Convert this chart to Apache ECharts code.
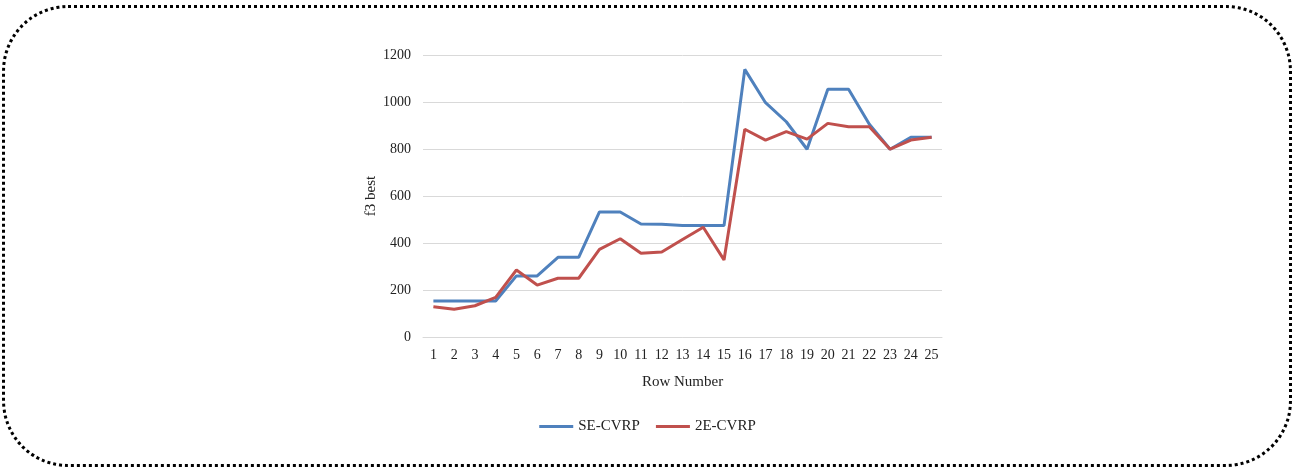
<!DOCTYPE html>
<html>
<head>
<meta charset="utf-8">
<script src="https://cdn.jsdelivr.net/npm/echarts@6/dist/echarts.min.js"></script>
<style>
  html, body { margin: 0; padding: 0; background: #fff; }
  #frame {
    position: absolute; left: 2px; top: 5px; width: 1284px; height: 456px;
    border: 3px dotted #000; border-radius: 66px;
  }
  #echart { position: absolute; left: 0; top: 0; width: 1295px; height: 470px; }
</style>
</head>
<body>
<div id="frame"></div>
<div id="echart"></div>
<script>
  var rowNumbers = ['1','2','3','4','5','6','7','8','9','10','11','12','13','14','15','16','17','18','19','20','21','22','23','24','25'];
  var seCvrp = [153, 153, 153, 153, 260, 260, 339, 339, 532, 532, 481, 480, 474, 474, 474, 1139, 997, 916, 799, 1054, 1054, 905, 799, 850, 850];
  var twoECvrp = [129, 118, 133, 169, 285, 221, 250, 250, 373, 418, 356, 362, 415, 467, 328, 884, 838, 874, 842, 909, 895, 895, 799, 838, 850];
  var yTicks = [0, 1200, 200];   // min, max, step

  var font = '"Liberation Serif", "Times New Roman", serif';
  var myChart = echarts.init(document.getElementById('echart'));

  var option = {
    animation: false,
    grid: { left: 423, right: 353, top: 55, bottom: 133 },
    legend: {
      bottom: 31,
      left: 'center',
      icon: 'rect',
      itemWidth: 34,
      itemHeight: 3,
      itemGap: 16,
      textStyle: { fontFamily: font, fontSize: 15, color: '#222' },
      data: ['SE-CVRP', '2E-CVRP']
    },
    xAxis: {
      type: 'category',
      data: rowNumbers,
      boundaryGap: true,
      name: 'Row Number',
      nameLocation: 'middle',
      nameGap: 38,
      nameTextStyle: { fontFamily: font, fontSize: 15, color: '#222' },
      axisLine: { show: true, lineStyle: { color: '#d9d9d9' } },
      axisTick: { show: false },
      axisLabel: { fontFamily: font, fontSize: 14, color: '#222', margin: 11, interval: 0 }
    },
    yAxis: {
      type: 'value',
      min: yTicks[0],
      max: yTicks[1],
      interval: yTicks[2],
      name: 'f3 best',
      nameLocation: 'middle',
      nameGap: 44,
      nameTextStyle: { fontFamily: font, fontSize: 15, color: '#222' },
      axisLine: { show: false },
      axisTick: { show: false },
      axisLabel: {
        fontFamily: font, fontSize: 14, color: '#222', margin: 12,
        formatter: function (v) { return String(v); }
      },
      splitLine: { lineStyle: { color: '#d9d9d9', width: 1 } }
    },
    series: [
      {
        name: 'SE-CVRP',
        type: 'line',
        data: seCvrp,
        symbol: 'none',
        color: '#4f81bd',
        lineStyle: { width: 3, color: '#4f81bd' }
      },
      {
        name: '2E-CVRP',
        type: 'line',
        data: twoECvrp,
        symbol: 'none',
        color: '#c0504d',
        lineStyle: { width: 3, color: '#c0504d' }
      }
    ]
  };

  myChart.setOption(option, true);
</script>
</body>
</html>
